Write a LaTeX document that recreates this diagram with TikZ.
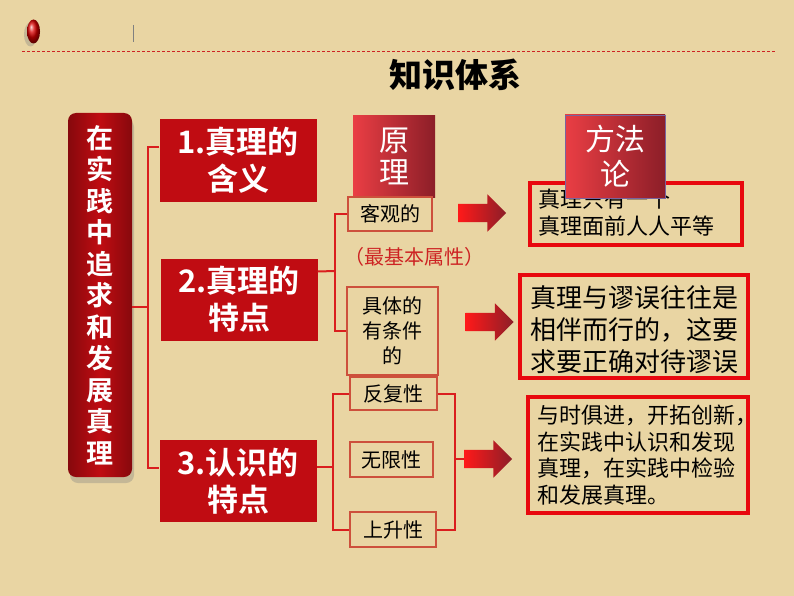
\documentclass[tikz,border=0pt]{standalone}
\usepackage{fontspec}
\newfontfamily\cjk{Noto Sans CJK SC}[BoldFont={Noto Sans CJK SC Bold}]
\newfontfamily\cjkblack{Noto Sans CJK SC Black}
\usetikzlibrary{shapes.arrows,shadows}

\definecolor{paper}{RGB}{233,213,163}
\definecolor{boxred}{RGB}{192,12,18}
\definecolor{linered}{RGB}{218,30,30}
\definecolor{framered}{RGB}{232,8,14}
\definecolor{edgebrown}{RGB}{205,80,60}
\definecolor{lightred}{RGB}{234,62,68}
\definecolor{darkred}{RGB}{140,30,40}
\definecolor{notered}{RGB}{205,35,35}
\definecolor{purpleedge}{RGB}{120,100,160}

\tikzset{
    topic/.style={fill=boxred, text=white, inner sep=0pt, align=center,
        minimum width=157pt, minimum height=82pt,
        font=\cjk\bfseries\fontsize{31}{37}\selectfont},
    trait/.style={draw=edgebrown, line width=1.3pt, inner sep=0pt, align=center,
        font=\cjk\fontsize{20}{25}\selectfont},
    label/.style={left color=lightred, right color=darkred, text=white,
        inner sep=0pt, align=center, font=\cjk\fontsize{30}{32}\selectfont},
    method/.style={draw=framered, line width=3.5pt, inner sep=0pt},
    tree/.style={draw=linered, line width=2pt},
    push/.style={shape=single arrow, left color=red!90!white, right color=darkred,
        inner xsep=0pt, inner ysep=9pt, single arrow head extend=9.5pt,
        single arrow head indent=0pt, minimum height=48pt}
}

\begin{document}
\begin{tikzpicture}[x=1pt, y=-1pt]
    \fill[paper] (0,0) rectangle (794,596);
    \useasboundingbox (0,0) rectangle (794,596);

    \shade[ball color=red!85!black, drop shadow={opacity=0.35, shadow xshift=-3pt, shadow yshift=-3pt}]
        (33.5,31.5) ellipse [x radius=6.5, y radius=12];
    \draw[gray, line width=0.8pt] (133,25) -- (133,42);
    \draw[notered, line width=1pt, dash pattern=on 3pt off 2pt] (22,52) -- (776,52);

    \node[font=\cjkblack\fontsize{33}{35}\selectfont] (title) at (455,75) {知识体系};

    \node[rounded corners=8pt, left color=boxred!70!black, right color=boxred!70!black,
        middle color=boxred, text=white, inner sep=0pt, align=center,
        minimum width=64pt, minimum height=364pt,
        font=\cjk\bfseries\fontsize{27}{31.5}\selectfont,
        drop shadow={opacity=0.35, shadow xshift=2pt, shadow yshift=-6pt}] (main) at (100,295)
        {在\\实\\践\\中\\追\\求\\和\\发\\展\\真\\理};

    \node[topic] (b1) at (238,160.5) {1.真理的\\含义};
    \node[topic] (b2) at (239,299.5) {2.真理的\\特点};
    \node[topic] (b3) at (238,481) {3.认识的\\特点};

    \node[label, minimum width=82pt, minimum height=81pt] (yl) at (394,156.5) {原\\理};

    \node[trait, minimum width=84pt, minimum height=34pt] (kg) at (390,214) {客观的};
    \node[text=notered, font=\cjk\fontsize{20}{24}\selectfont] (jb) at (414,257) {（最基本属性）};
    \node[trait, minimum width=91pt, minimum height=88pt] (jt) at (392.5,331) {具体的\\有条件\\的};
    \node[trait, minimum width=87pt, minimum height=33pt] (ff) at (393.5,393.5) {反复性};
    \node[trait, minimum width=83pt, minimum height=35pt] (wx) at (391.5,459.5) {无限性};
    \node[trait, minimum width=86pt, minimum height=35pt] (ss) at (393,529.5) {上升性};

    \node[method, minimum width=212pt, minimum height=62pt] (r1) at (636,214) {};
    \node[anchor=west, align=left, inner sep=0pt, font=\cjk\fontsize{22}{27}\selectfont]
        (t1) at (538,213) {真理只有一个\\真理面前人人平等};
    \node[label, draw=purpleedge, line width=0.8pt, minimum width=100pt, minimum height=83pt,
        font=\cjk\fontsize{30}{35}\selectfont] (ff0) at (615,156.5) {方法\\论};

    \node[method, minimum width=228pt, minimum height=103pt] (r2) at (634,326.5) {};
    \node[anchor=west, align=left, inner sep=0pt, font=\cjk\fontsize{26}{32}\selectfont]
        (t2) at (530,330) {真理与谬误往往是\\相伴而行的，这要\\求要正确对待谬误};

    \node[method, minimum width=220pt, minimum height=116pt] (r3) at (638,455) {};
    \node[anchor=west, align=left, inner sep=0pt, font=\cjk\fontsize{22}{26.5}\selectfont]
        (t3) at (537,455) {与时俱进，开拓创新，\\在实践中认识和发现\\真理，在实践中检验\\和发展真理。};

    \node[push] (a1) at (477.5,213) {};
    \node[push] (a2) at (485,322) {};
    \node[push] (a3) at (483.5,459) {};

    \coordinate (m1) at (148,307);
    \coordinate (m2) at (335,271);
    \coordinate (m3) at (333,467);
    \coordinate (m4) at (455,459);

    \draw[tree] (main.east |- m1) -- (m1);
    \draw[tree] ([yshift=13pt]b1.west) -| (m1) |- ([yshift=13pt]b3.west);
    \draw[tree] ([yshift=28pt]b2.east) -- (m2);
    \draw[tree] (kg.west) -| (m2) |- (jt.west);
    \draw[tree] ([yshift=14pt]b3.east) -- (m3);
    \draw[tree] (ff.west) -| (m3) |- (ss.west);
    \draw[tree] (ff.east) -| (m4) |- (ss.east);
    \draw[tree] (m4) -- (a3.west);
\end{tikzpicture}
\end{document}
